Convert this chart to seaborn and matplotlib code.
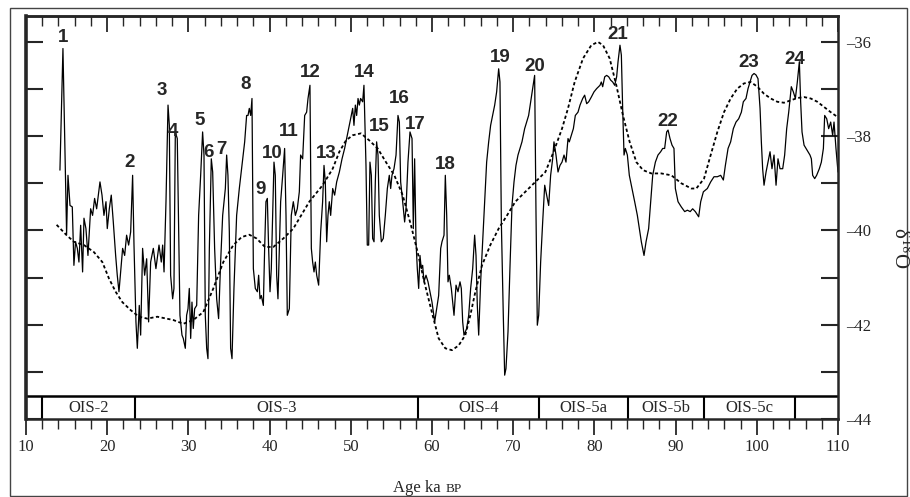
import numpy as np
import pandas as pd
import matplotlib
matplotlib.use("Agg")
import matplotlib.pyplot as plt
import seaborn as sns
from matplotlib.patches import Rectangle
from matplotlib.ticker import MultipleLocator, FixedLocator, FuncFormatter, NullFormatter

# ice core d18O record (age in ka BP, per mil)
age = [14.18, 14.55, 15.00, 15.17, 15.42, 15.70, 15.90, 16.10, 16.32, 16.52, 16.73, 16.97,
       17.14, 17.38, 17.63, 17.96, 18.20, 18.45, 18.70, 18.86, 19.11, 19.36, 19.60, 19.85,
       20.01, 20.26, 20.50, 20.75, 21.04, 21.24, 21.45, 21.65, 21.90, 22.15, 22.39, 22.64,
       22.89, 23.13, 23.30, 23.54, 23.71, 23.95, 24.12, 24.36, 24.61, 24.86, 25.10, 25.35,
       25.68, 26.00, 26.38, 26.66,
       26.83, 27.00, 27.24, 27.49, 27.65, 27.81, 28.06, 28.22, 28.39, 28.63, 28.80, 28.96,
       29.21, 29.37, 29.62, 29.78, 29.95, 30.11, 30.28, 30.44, 30.60, 30.77, 31.02, 31.26,
       31.51, 31.75, 31.92, 32.08, 32.25, 32.41, 32.58, 32.82, 32.99, 33.23, 33.48, 33.72,
       33.97, 34.22, 34.55, 34.71, 34.87, 35.04, 35.20, 35.37, 35.61, 35.94, 36.27, 36.60,
       36.93, 37.17, 37.34, 37.50, 37.67, 37.83, 38.00, 38.24, 38.49, 38.65, 38.82, 38.98,
       39.23, 39.39, 39.55, 39.72, 39.88, 40.05, 40.21, 40.38, 40.54, 40.70, 40.87, 41.03,
       41.20, 41.36, 41.61, 41.85, 42.02, 42.18, 42.43, 42.67, 42.92, 43.17,
       43.41, 43.66, 43.82, 44.07, 44.32, 44.56, 44.73, 44.97, 45.14, 45.30, 45.47, 45.63,
       45.80, 46.04, 46.29, 46.53, 46.70, 46.86, 47.03, 47.19, 47.35, 47.52, 47.77, 48.01,
       48.26, 48.59, 48.92, 49.24, 49.49, 49.74, 50.06, 50.23, 50.39, 50.56, 50.72, 50.89,
       51.05, 51.21, 51.46, 51.62, 51.87, 52.03, 52.20, 52.36, 52.53, 52.69, 52.86, 53.02,
       53.18, 53.35, 53.51, 53.76, 54.00, 54.25, 54.50, 54.74, 54.91, 55.07, 55.32, 55.57,
       55.81, 55.98, 56.14, 56.39, 56.63, 56.80, 57.04, 57.29, 57.54, 57.70, 57.86, 58.03,
       58.19, 58.36, 58.52, 58.68, 58.85, 59.01, 59.26, 59.51, 59.75, 60.00,
       60.33, 60.57, 60.82, 61.07, 61.23, 61.48, 61.64, 61.81, 61.97, 62.13, 62.38, 62.55,
       62.71, 62.96, 63.20, 63.45, 63.61, 63.78, 63.94, 64.10, 64.27, 64.52, 64.76, 65.01,
       65.25, 65.42, 65.58, 65.75, 65.99, 66.24, 66.49, 66.73, 66.98, 67.22, 67.47, 67.72,
       67.96, 68.21, 68.37, 68.54, 68.78, 68.95, 69.11, 69.36, 69.61, 69.85, 70.10, 70.34,
       70.59, 70.84, 71.08, 71.41, 71.66, 71.90, 72.15, 72.40, 72.64, 72.81, 72.97, 73.14,
       73.38, 73.63, 73.88, 74.12, 74.37, 74.61, 74.86, 75.02, 75.27, 75.52, 75.76, 76.01,
       76.26, 76.50, 76.75,
       76.91, 77.16, 77.41, 77.65, 77.98, 78.23, 78.56, 78.80, 79.05, 79.30, 79.62, 79.95,
       80.28, 80.69, 80.85, 81.02, 81.27, 81.51, 81.76, 82.00, 82.25, 82.50, 82.74, 82.91,
       83.15, 83.32, 83.48, 83.65, 83.81, 84.06, 84.30, 84.55, 84.96, 85.29, 85.53, 85.78,
       86.11, 86.36, 86.68, 86.93, 87.18, 87.51, 87.83, 88.16, 88.41, 88.65, 88.90, 89.07,
       89.31, 89.56, 89.80, 89.97, 90.30, 90.70, 91.12, 91.45, 91.80, 92.10, 92.43, 92.84,
       93.09, 93.42,
       93.91, 94.32, 94.73, 95.14, 95.55, 95.88, 96.13, 96.46, 96.78, 97.11, 97.44, 97.77,
       98.10, 98.34, 98.67, 98.92, 99.17, 99.41, 99.66, 99.90, 100.15, 100.40, 100.56, 100.72,
       100.89, 101.14, 101.38, 101.63, 101.87, 102.12, 102.37, 102.61, 102.86, 103.19, 103.43,
       103.68, 103.93, 104.25, 104.50, 104.75, 104.99, 105.24, 105.40, 105.57, 105.82, 106.06,
       106.31, 106.55, 106.72, 106.88, 107.13, 107.37, 107.70, 107.95, 108.20, 108.36, 108.61,
       108.85, 109.10, 109.34, 109.51, 109.75, 110.00]

d18o = [-38.72, -36.14, -40.07, -38.83, -39.47, -39.50, -40.74, -40.24, -40.38, -40.67, -39.89, -40.88,
        -39.74, -39.96, -40.53, -39.54, -39.68, -39.32, -39.54, -39.32, -38.97, -39.25, -39.68, -39.39,
        -39.96, -39.54, -39.25, -39.82, -40.53, -40.95, -41.30, -40.88, -40.38, -40.53, -40.10, -40.31,
        -40.03, -38.83, -40.31, -41.94, -42.50, -41.59, -42.22, -40.38, -40.95, -40.60, -41.94, -40.67,
        -40.38, -40.81, -40.31, -40.67,
        -40.31, -40.88, -39.39, -37.34, -37.77, -40.95, -41.45, -41.23, -37.91, -38.05, -40.03, -41.80,
        -42.22, -42.29, -42.50, -41.80, -41.66, -41.23, -42.29, -41.52, -42.08, -41.66, -41.59, -39.68,
        -38.83, -37.91, -38.40, -41.80, -42.50, -42.72, -40.38, -38.48, -38.76, -40.38, -41.45, -41.87,
        -40.67, -39.68, -39.11, -38.40, -38.83, -40.03, -42.50, -42.72, -41.23, -39.68, -39.11, -38.62,
        -38.12, -37.56, -37.56, -37.41, -37.56, -37.20, -40.81, -41.23, -41.30, -40.95, -41.45, -41.38,
        -41.59, -40.38, -39.39, -39.32, -40.38, -41.30, -40.81, -39.68, -38.55, -38.83, -40.95, -41.45,
        -40.38, -39.39, -38.83, -38.26, -39.68, -41.80, -41.66, -39.68, -39.39, -39.68,
        -39.54, -39.18, -38.40, -38.48, -37.56, -37.49, -37.20, -36.92, -40.38, -40.67, -40.88, -40.67,
        -40.95, -41.16, -40.03, -39.39, -38.62, -38.97, -40.24, -39.68, -39.39, -39.68, -39.11, -39.25,
        -38.97, -38.76, -38.48, -38.26, -38.05, -37.84, -37.56, -37.41, -37.77, -37.34, -37.56, -37.20,
        -37.34, -37.20, -37.27, -36.92, -38.62, -40.31, -40.31, -38.55, -38.83, -40.17, -40.24, -38.97,
        -38.12, -38.40, -39.68, -40.24, -40.17, -39.68, -39.11, -38.83, -39.11, -38.83, -38.69, -38.40,
        -37.56, -37.70, -38.97, -39.39, -39.82, -39.54, -38.55, -37.91, -38.05, -39.96, -38.48, -40.24,
        -40.81, -41.23, -40.53, -40.81, -40.74, -41.09, -40.95, -41.09, -41.30, -41.52,
        -41.94, -41.66, -41.38, -40.38, -40.24, -40.10, -38.83, -39.68, -41.09, -40.95, -41.23, -41.52,
        -41.80, -41.16, -41.30, -41.09, -41.23, -41.94, -42.22, -42.15, -42.08, -41.80, -41.23, -40.81,
        -40.10, -40.53, -41.59, -42.22, -41.09, -40.24, -39.39, -38.55, -38.12, -37.77, -37.56, -37.34,
        -37.06, -36.57, -36.85, -39.82, -41.80, -43.07, -42.93, -42.15, -40.74, -39.47, -38.97, -38.62,
        -38.40, -38.26, -38.12, -37.84, -37.70, -37.56, -37.27, -36.99, -36.71, -39.68, -42.01, -41.80,
        -40.67, -39.82, -39.04, -39.25, -39.47, -38.83, -38.48, -38.12, -38.40, -38.76, -38.62, -38.55,
        -38.40, -38.55, -38.05,
        -38.12, -37.98, -37.84, -37.56, -37.49, -37.34, -37.20, -37.13, -37.31, -37.27, -37.17, -37.06,
        -36.99, -36.92, -36.85, -36.95, -36.74, -36.71, -36.74, -36.81, -36.85, -36.92, -36.74, -36.42,
        -36.07, -36.28, -37.41, -38.40, -38.26, -38.40, -38.83, -39.04, -39.39, -39.68, -39.96, -40.24,
        -40.53, -40.24, -39.96, -39.39, -38.83, -38.55, -38.40, -38.33, -38.26, -38.26, -37.91, -37.87,
        -38.05, -38.19, -38.26, -39.11, -39.39, -39.50, -39.60, -39.57, -39.60, -39.54, -39.60, -39.71,
        -39.39, -39.18,
        -39.11, -38.97, -38.86, -38.86, -38.83, -38.93, -38.62, -38.26, -38.12, -37.84, -37.70, -37.63,
        -37.49, -37.27, -37.20, -36.99, -36.85, -36.71, -36.67, -36.70, -36.78, -37.41, -38.12, -38.69,
        -39.04, -38.76, -38.55, -38.33, -38.69, -38.40, -39.04, -38.48, -38.69, -38.69, -38.40,
        -37.84, -37.49, -36.95, -37.06, -37.20, -36.85, -36.42, -37.27, -37.91, -38.19, -38.26,
        -38.33, -38.40, -38.48, -38.83, -38.90, -38.83, -38.69, -38.55, -38.26, -37.56, -37.63,
        -37.84, -37.70, -37.98, -37.70, -38.26, -38.76]

# smooth (dotted) curve
smooth_age = [13.77, 15.00, 15.90, 17.14, 18.37, 19.40, 20.22, 21.04, 21.86, 22.89, 23.91, 24.94,
              26.17, 28.14, 29.37, 30.60, 31.84, 33.07, 34.30, 35.53, 36.56, 37.50, 38.40, 39.43,
              40.46, 41.69, 42.92, 44.89, 46.53, 47.77, 48.59, 49.41, 50.23, 51.25, 52.28, 53.31,
              54.33, 55.36, 56.39, 57.41, 58.23, 59.05, 60.08, 60.82, 61.64, 62.46, 63.28, 64.10,
              64.72, 65.34, 66.16, 67.18, 68.21, 69.24, 70.26, 71.49, 72.73, 73.96, 74.98, 76.01,
              76.75, 77.57, 78.60, 79.62, 80.44, 81.06, 81.88, 82.70, 83.52, 84.34, 85.17, 85.99,
              87.01, 88.24, 89.48, 90.71, 91.94, 92.55, 93.50, 94.32, 95.14, 95.96, 96.78, 97.60,
              98.43, 99.25, 100.07, 100.89, 101.71, 102.53, 103.35, 104.17, 104.99, 105.82, 106.64,
              107.46, 108.28, 109.10, 109.92]
smooth_val = [-39.88, -40.10, -40.24, -40.31, -40.46, -40.67, -41.02, -41.30, -41.52, -41.69, -41.83, -41.87,
              -41.83, -41.90, -41.98, -41.90, -41.73, -41.23, -40.67, -40.31, -40.14, -40.09, -40.17, -40.35,
              -40.35, -40.17, -39.96, -39.39, -39.04, -38.69, -38.33, -38.09, -37.98, -37.94, -38.09, -38.26,
              -38.55, -38.83, -39.25, -39.89, -40.46, -41.09, -41.80, -42.29, -42.50, -42.54, -42.44, -42.22,
              -41.80, -41.30, -40.74, -40.31, -39.96, -39.68, -39.39, -39.18, -38.97, -38.76, -38.33, -37.84,
              -37.41, -36.85, -36.35, -36.07, -36.00, -36.07, -36.35, -36.92, -37.56, -38.12, -38.55, -38.72,
              -38.79, -38.79, -38.83, -39.00, -39.11, -39.11, -38.90, -38.40, -37.91, -37.49, -37.20, -36.99,
              -36.88, -36.85, -36.95, -37.10, -37.20, -37.27, -37.29, -37.24, -37.19, -37.17, -37.20,
              -37.27, -37.38, -37.49, -37.59]

# interstadial numbers and where they sit
event_x = [14.56, 22.8, 26.75, 28.1, 31.43, 32.5, 34.1, 37.0, 38.94, 40.3, 42.39, 44.98,
           46.95, 51.63, 53.47, 55.94, 57.9, 61.6, 68.37, 72.68, 82.9, 89.06, 99.04, 104.7]
event_y = [-35.91, -38.56, -37.02, -37.91, -37.66, -38.34, -38.29, -36.91, -39.14, -38.36, -37.89, -36.64,
           -38.36, -36.64, -37.80, -37.21, -37.76, -38.59, -36.32, -36.53, -35.85, -37.68, -36.44, -36.38]

# isotope stage boundaries
stage_edges = [11.97, 23.42, 58.28, 73.18, 84.14, 93.5, 104.7]
stage_names = ["OIS-2", "OIS-3", "OIS-4", "OIS-5a", "OIS-5b", "OIS-5c"]

sns.set_style("ticks")
plt.rcParams['font.family'] = ['Liberation Serif', 'DejaVu Serif']
plt.rcParams['mathtext.fontset'] = 'stix'

fig = plt.figure(figsize=(9.1, 4.97), dpi=100)
ax = fig.add_axes([26 / 910, 1 - 419 / 497, 812 / 910, 403 / 497])

core = pd.DataFrame({"age": age, "d18o": d18o})
smooth = pd.DataFrame({"age": smooth_age, "d18o": smooth_val})
sns.lineplot(data=core, x="age", y="d18o", ax=ax, color="black", linewidth=0.9,
             estimator=None, sort=False)
sns.lineplot(data=smooth, x="age", y="d18o", ax=ax, color="black", linewidth=1.3,
             linestyle=(0, (1.8, 1.4)), estimator=None, sort=False)

ax.set_xlim(10, 110)
ax.set_ylim(-44, -35.45)
ax.set_xlabel("")
ax.set_ylabel("")

# stage band along the bottom
band_top = -43.52
ax.axhline(band_top, color="black", lw=1.8)
ax.vlines(stage_edges, -44, band_top, color="black", lw=1.5)
for lo, hi, name in zip(stage_edges[:-1], stage_edges[1:], stage_names):
    ax.text((lo + hi) / 2, (band_top - 44) / 2, name, ha="center", va="center", fontsize=12)

for i, (x, y) in enumerate(zip(event_x, event_y)):
    ax.text(x, y, str(i + 1), ha="center", va="center", fontsize=13.5, fontweight="bold",
            family=["Liberation Sans", "DejaVu Sans"])

for side in ["top", "right", "bottom"]:
    ax.spines[side].set_linewidth(1.8)
ax.spines["left"].set_linewidth(2.6)

# y ticks on both sides, labels on the right
ax.yaxis.set_major_locator(FixedLocator([-44, -42, -40, -38, -36]))
ax.yaxis.set_minor_locator(FixedLocator([-43, -41, -39, -37]))
ax.yaxis.set_major_formatter(FuncFormatter(lambda v, _: "\u2013%d" % abs(round(v))))
ax.tick_params(axis="y", which="both", direction="in", left=True, right=True,
               labelleft=False, labelright=True, length=12, width=1.5, labelsize=12, pad=6)

# x ticks: out at the bottom, in at the top
ax.xaxis.set_major_locator(MultipleLocator(10))
ax.xaxis.set_minor_locator(MultipleLocator(2))
ax.tick_params(axis="x", which="major", direction="out", length=11.5, width=1.3, labelsize=12, pad=3)
ax.tick_params(axis="x", which="minor", direction="out", length=7, width=1.0)
top = ax.secondary_xaxis("top")
top.xaxis.set_major_locator(MultipleLocator(10))
top.xaxis.set_minor_locator(MultipleLocator(2))
top.xaxis.set_major_formatter(NullFormatter())
top.tick_params(which="major", direction="in", length=11.5, width=1.3)
top.tick_params(which="minor", direction="in", length=7, width=1.0)
top.spines["top"].set_linewidth(1.8)

fig.text(393 / 910, 1 - 492 / 497, "Age ka", ha="left", va="baseline", fontsize=12)
fig.text(446 / 910, 1 - 492 / 497, "BP", ha="left", va="baseline", fontsize=9.5)
fig.text(900 / 910, 1 - 248 / 497, "\u03b4$^{18}$O", rotation=270, ha="center", va="center", fontsize=15)

fig.add_artist(Rectangle((10 / 910, 1 - 496 / 497), 897 / 910, 488 / 497,
                         transform=fig.transFigure, fill=False, ec="#444444", lw=1))

fig.savefig("out.png", dpi=100)
